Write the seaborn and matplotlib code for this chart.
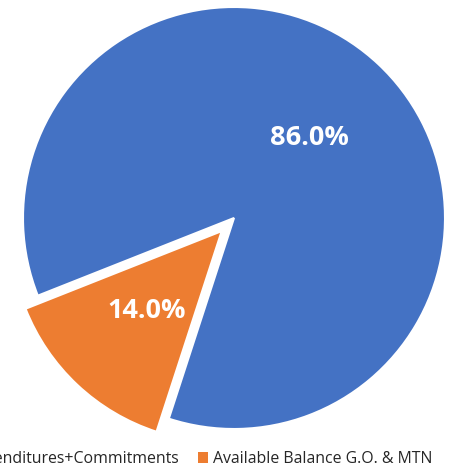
import matplotlib
matplotlib.use("Agg")
import matplotlib.pyplot as plt
from matplotlib.patches import Patch
import seaborn as sns

# data
categories = ["Expenditures+Commitments", "Available Balance G.O. & MTN"]
shares = [86.0, 14.0]
colors = ["#4472C4", "#ED7D31"]

sns.set_theme(style="white")
plt.rcParams["font.family"] = ["Open Sans", "DejaVu Sans"]

W, H = 456, 470
fig = plt.figure(figsize=(W / 100, H / 100), dpi=100)

# pie centre (234, 218) px from top-left, radius 211 px
cx, cy, r = 234, 218, 211
ax = fig.add_axes([(cx - r) / W, (H - cy - r) / H, 2 * r / W, 2 * r / H])
wedges, texts, autotexts = ax.pie(
    shares,
    colors=colors,
    startangle=252,
    counterclock=True,
    explode=[0, 0.085],
    autopct="%.1f%%",
    pctdistance=0.52,
    radius=1,
    wedgeprops=dict(edgecolor="white", linewidth=1.5),
    textprops=dict(color="white", fontsize=19.5, fontweight="bold"),
)
ax.set_xlim(-1, 1)
ax.set_ylim(-1, 1)
ax.set_aspect("equal")
ax.axis("off")

handles = [Patch(facecolor=c, edgecolor="none") for c in colors]
fig.legend(
    handles, categories,
    loc="center right",
    bbox_to_anchor=(432 / W, 11 / H),
    ncol=2, frameon=False,
    borderpad=0, borderaxespad=0,
    handlelength=0.65, handleheight=0.65, handletextpad=0.3,
    columnspacing=1.15,
    fontsize=11.4,
)

fig.savefig("out.png", dpi=100)
